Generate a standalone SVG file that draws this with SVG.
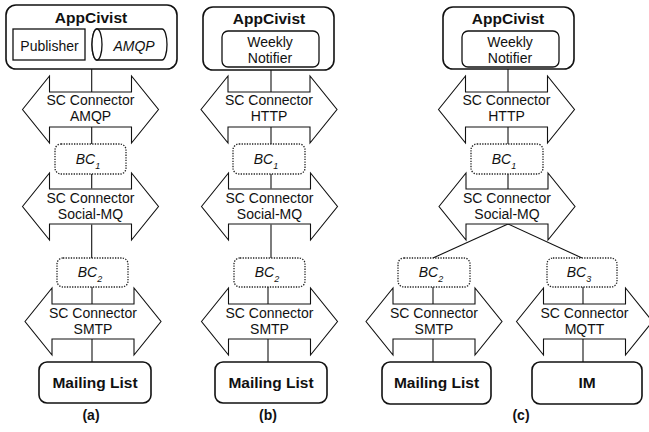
<svg xmlns="http://www.w3.org/2000/svg" xmlns:xlink="http://www.w3.org/1999/xlink" width="649" height="432" viewBox="0 0 649 432">
<style>
text{font-family:"Liberation Sans",Arial,sans-serif;fill:#111}
.box{fill:#fff;stroke:#111;stroke-width:1.6}
.inner{fill:#fff;stroke:#111;stroke-width:1.3}
.bc{fill:#fff;stroke:#222;stroke-width:1.3;stroke-dasharray:1.3 1.3}
.arrow{fill:#fff;stroke:#111;stroke-width:1.1}
.conn line{stroke:#111;stroke-width:1.1}
.t{font-size:14px;text-anchor:middle}
.b{font-weight:bold;text-anchor:middle}
.i{font-style:italic}
</style>
<defs>
<path id="dbl" d="M -68,0 L -41,-33.5 L -41,-17.5 L 41,-17.5 L 41,-33.5 L 68,0 L 41,33.5 L 41,17.5 L -41,17.5 L -41,33.5 Z"/>
</defs>
<rect width="649" height="432" fill="#fff"/>

<!-- connectors -->
<g id="connectors" class="conn">
<line x1="85" y1="45" x2="92" y2="45"/>
<line x1="91.7" y1="69" x2="91.7" y2="92"/>
<line x1="91.7" y1="127" x2="91.7" y2="144"/>
<line x1="91.7" y1="174" x2="91.7" y2="188.5"/>
<line x1="91.7" y1="224.5" x2="91.7" y2="258"/>
<line x1="92" y1="287" x2="92" y2="304"/>
<line x1="92" y1="339" x2="92" y2="362"/>

<line x1="271" y1="70" x2="271" y2="92"/>
<line x1="271" y1="127" x2="271" y2="144"/>
<line x1="271" y1="174" x2="271" y2="188.5"/>
<line x1="271" y1="224.5" x2="271" y2="258"/>
<line x1="268" y1="287" x2="268" y2="304"/>
<line x1="268" y1="339" x2="268" y2="362"/>

<line x1="508" y1="69" x2="508" y2="92"/>
<line x1="508" y1="127" x2="508" y2="144"/>
<line x1="508" y1="174" x2="508" y2="189"/>
<line x1="508" y1="224" x2="433" y2="258"/>
<line x1="508" y1="224" x2="582" y2="258"/>
<line x1="433" y1="287" x2="433" y2="304"/>
<line x1="433" y1="339" x2="433" y2="362"/>
<line x1="583" y1="287" x2="583" y2="304"/>
<line x1="583" y1="339" x2="583" y2="362"/>
</g>

<!-- panel (a) -->
<g id="a-appcivist">
<rect class="box" x="6" y="5" width="171" height="64" rx="10"/>
<text class="b" x="91" y="23" font-size="15.5">AppCivist</text>
<rect class="inner" x="13" y="29" width="72" height="31"/>
<text class="t" x="49.5" y="50.5" font-size="15.5">Publisher</text>
<path class="inner" d="M 97,29 L 162,29 A 5,15.5 0 0 1 162,60 L 97,60 A 5,15.5 0 0 1 97,29 Z"/>
<ellipse class="inner" cx="97" cy="44.5" rx="5" ry="15.5"/>
<text class="t i" x="134" y="50.5" font-size="15.5">AMQP</text>
</g>
<g id="a-sc-amqp">
<use xlink:href="#dbl" class="arrow" x="90.5" y="109.5"/>
<text class="t" x="90.5" y="105">SC Connector</text>
<text class="t" x="90.5" y="121">AMQP</text>
</g>
<g id="a-bc1">
<rect class="bc" x="55" y="144" width="71" height="30" rx="6"/>
<text class="t i" x="88" y="164">BC<tspan font-size="9" dy="5">1</tspan></text>
</g>
<g id="a-sc-socialmq">
<use xlink:href="#dbl" class="arrow" x="90.5" y="206.5"/>
<text class="t" x="90.5" y="203">SC Connector</text>
<text class="t" x="90.5" y="219">Social-MQ</text>
</g>
<g id="a-bc2">
<rect class="bc" x="57" y="258" width="71" height="29" rx="6"/>
<text class="t i" x="90" y="277">BC<tspan font-size="9" dy="5">2</tspan></text>
</g>
<g id="a-sc-smtp">
<use xlink:href="#dbl" class="arrow" x="93" y="321.5"/>
<text class="t" x="93" y="318">SC Connector</text>
<text class="t" x="93" y="334">SMTP</text>
</g>
<g id="a-mailing">
<rect class="box" x="39" y="362" width="112" height="41" rx="8"/>
<text class="b" x="95" y="388" font-size="15.5">Mailing List</text>
</g>
<text class="b" x="91" y="420" font-size="14">(a)</text>

<!-- panel (b) -->
<g id="b-appcivist">
<rect class="box" x="203" y="7" width="131" height="63" rx="10"/>
<text class="b" x="269" y="24" font-size="15.5">AppCivist</text>
<rect class="inner" x="222" y="31" width="97" height="36" rx="6"/>
<text class="t" x="270" y="47" font-size="16">Weekly</text>
<text class="t" x="270" y="63" font-size="16">Notifier</text>
</g>
<g id="b-sc-http">
<use xlink:href="#dbl" class="arrow" x="269" y="109.5"/>
<text class="t" x="269" y="105">SC Connector</text>
<text class="t" x="269" y="121">HTTP</text>
</g>
<g id="b-bc1">
<rect class="bc" x="233" y="144" width="72" height="30" rx="6"/>
<text class="t i" x="266" y="164">BC<tspan font-size="9" dy="5">1</tspan></text>
</g>
<g id="b-sc-socialmq">
<use xlink:href="#dbl" class="arrow" x="269.5" y="206.5"/>
<text class="t" x="269.5" y="203">SC Connector</text>
<text class="t" x="269.5" y="219">Social-MQ</text>
</g>
<g id="b-bc2">
<rect class="bc" x="234" y="258" width="71" height="29" rx="6"/>
<text class="t i" x="267" y="277">BC<tspan font-size="9" dy="5">2</tspan></text>
</g>
<g id="b-sc-smtp">
<use xlink:href="#dbl" class="arrow" x="269.5" y="321.5"/>
<text class="t" x="269.5" y="318">SC Connector</text>
<text class="t" x="269.5" y="334">SMTP</text>
</g>
<g id="b-mailing">
<rect class="box" x="215" y="362" width="112" height="41" rx="8"/>
<text class="b" x="271" y="388" font-size="15.5">Mailing List</text>
</g>
<text class="b" x="268" y="420" font-size="14">(b)</text>

<!-- panel (c) -->
<g id="c-appcivist">
<rect class="box" x="443" y="7" width="131" height="62" rx="10"/>
<text class="b" x="508" y="24" font-size="15.5">AppCivist</text>
<rect class="inner" x="462" y="31" width="97" height="36" rx="6"/>
<text class="t" x="510" y="47" font-size="16">Weekly</text>
<text class="t" x="510" y="63" font-size="16">Notifier</text>
</g>
<g id="c-sc-http">
<use xlink:href="#dbl" class="arrow" x="506.5" y="109.5"/>
<text class="t" x="506.5" y="105">SC Connector</text>
<text class="t" x="506.5" y="121">HTTP</text>
</g>
<g id="c-bc1">
<rect class="bc" x="471" y="144" width="72" height="30" rx="6"/>
<text class="t i" x="504" y="164">BC<tspan font-size="9" dy="5">1</tspan></text>
</g>
<g id="c-sc-socialmq">
<use xlink:href="#dbl" class="arrow" x="507" y="206.5"/>
<text class="t" x="507" y="203">SC Connector</text>
<text class="t" x="507" y="219">Social-MQ</text>
</g>
<g id="c-bc2">
<rect class="bc" x="398" y="258" width="72" height="29" rx="6"/>
<text class="t i" x="431" y="277">BC<tspan font-size="9" dy="5">2</tspan></text>
</g>
<g id="c-bc3">
<rect class="bc" x="547" y="258" width="70" height="29" rx="6"/>
<text class="t i" x="579" y="277">BC<tspan font-size="9" dy="5">3</tspan></text>
</g>
<g id="c-sc-smtp">
<use xlink:href="#dbl" class="arrow" x="434" y="321.5"/>
<text class="t" x="434" y="318">SC Connector</text>
<text class="t" x="434" y="334">SMTP</text>
</g>
<g id="c-sc-mqtt">
<use xlink:href="#dbl" class="arrow" x="584.5" y="321.5"/>
<text class="t" x="584.5" y="318">SC Connector</text>
<text class="t" x="584.5" y="334">MQTT</text>
</g>
<g id="c-mailing">
<rect class="box" x="382" y="362" width="109" height="42" rx="8"/>
<text class="b" x="436.5" y="388" font-size="15.5">Mailing List</text>
</g>
<g id="c-im">
<rect class="box" x="532" y="362" width="110" height="42" rx="8"/>
<text class="b" x="587" y="388" font-size="15.5">IM</text>
</g>
<text class="b" x="521" y="420" font-size="14">(c)</text>
</svg>
